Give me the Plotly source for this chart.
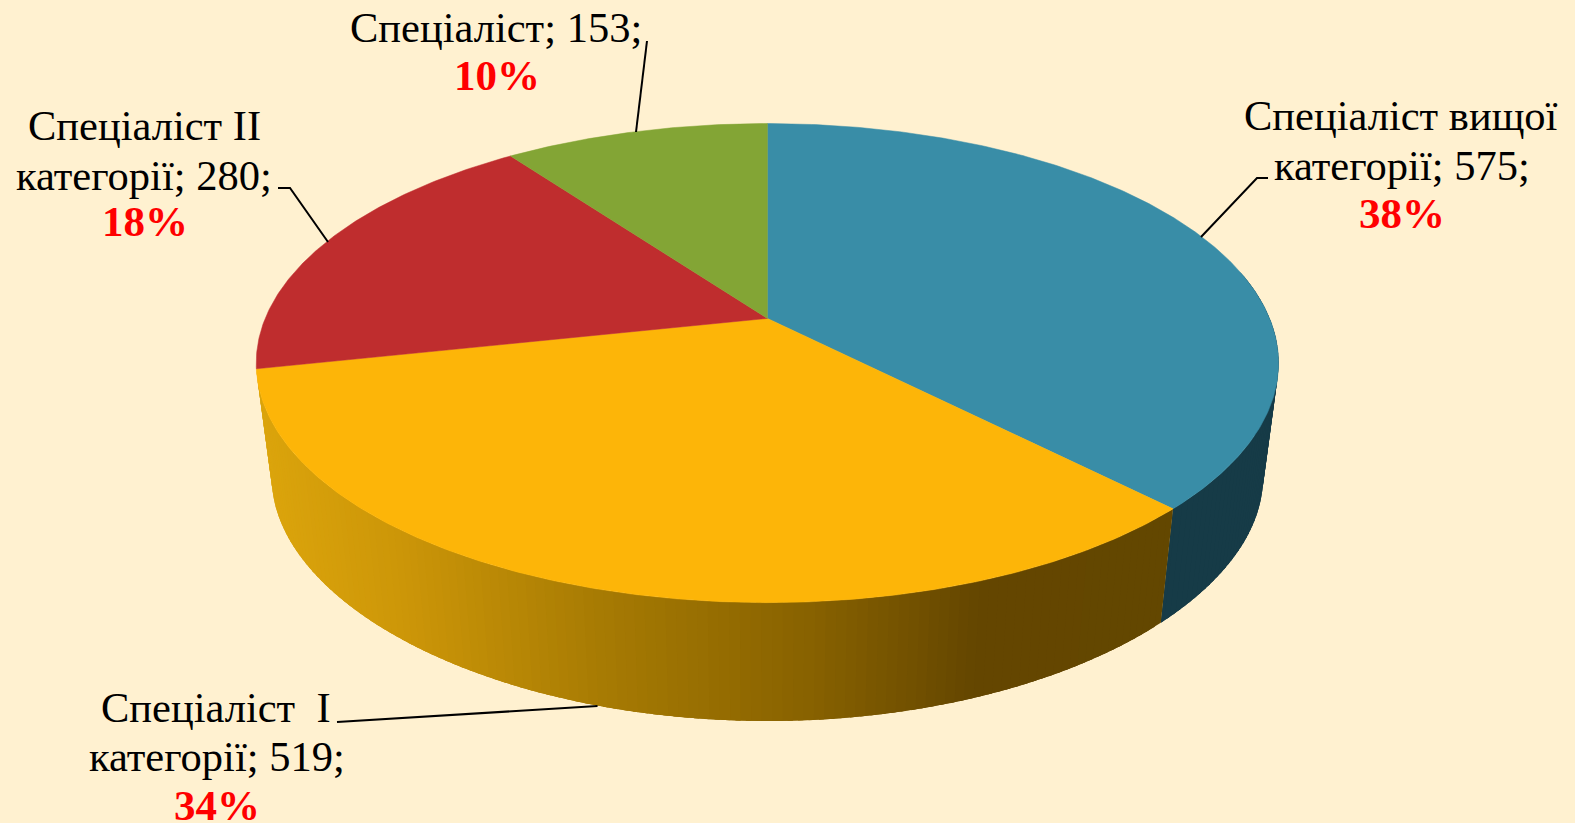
import math
import plotly.graph_objects as go

# ---- data ----
categories = ["Спеціаліст вищої категорії", "Спеціаліст I категорії", "Спеціаліст II категорії", "Спеціаліст"]
values = [575, 519, 280, 153]
percent_labels = ["38%", "34%", "18%", "10%"]

label_lines = [
    ["Спеціаліст вищої", "категорії; 575;"],
    ["Спеціаліст  I", "категорії; 519;"],
    ["Спеціаліст II", "категорії; 280;"],
    ["Спеціаліст; 153;"],
]

# ---- styles and layout ----
W, H = 1575, 823
BG = "#FFF1D0"
TOP_COLORS = ["#398DA7", "#FDB508", "#BF2D2E", "#83A535"]
SIDE_TEAL = "#163B47"
GOLD_STOPS = [(258, (0xDC, 0xA5, 0x0C)), (400, (0xCC, 0x96, 0x08)), (600, (0xA6, 0x7A, 0x03)),
              (800, (0x88, 0x62, 0x00)), (970, (0x64, 0x46, 0x00)), (1175, (0x63, 0x47, 0x00))]
FONT = "Liberation Serif"
FS = 42.5
FS_PCT = 43

label_pos = [  # centre x, baseline y of each text line
    [(1401, 130), (1401.5, 180), (1402, 228)],
    [(216, 722), (216.5, 771), (217, 820)],
    [(144, 140), (144, 190), (145, 236)],
    [(496, 42), (497, 90)],
]
leaders = [
    ([1268, 1257, 1201], [178, 178, 237]),
    ([337, 597.5], [722, 706]),
    ([278, 290, 328], [188, 188, 242]),
    ([647, 636], [41, 132]),
]

CX, CY, RX, RY, K = 767.4, 318.4, 502.2, 231.2, 0.1866
BX, BY0, BRY, BKY = 487.0, 434.0, 221.0, 0.23


def top_pt(deg):
    t = math.radians(deg)
    X, Y = math.sin(t), -math.cos(t)
    d = 1 - K * Y
    return CX + RX * X / d, CY + RY * Y / d


def bot_pt(deg):
    t = math.radians(deg)
    X, Y = math.sin(t), -math.cos(t)
    return CX + BX * X / (1 - K * Y), BY0 + BRY * Y / (1 - BKY * Y)


def gold(x):
    if x <= GOLD_STOPS[0][0]:
        c = GOLD_STOPS[0][1]
    elif x >= GOLD_STOPS[-1][0]:
        c = GOLD_STOPS[-1][1]
    else:
        for (a, ca), (b, cb) in zip(GOLD_STOPS, GOLD_STOPS[1:]):
            if a <= x <= b:
                f = (x - a) / (b - a)
                c = tuple(round(p + (q - p) * f) for p, q in zip(ca, cb))
                break
    return "rgb(%d,%d,%d)" % tuple(c)


total = sum(values)
edges = [0.0]
for v in values:
    edges.append(edges[-1] + 360.0 * v / total)

fig = go.Figure()


def poly(xs, ys, color, lw=0.0):
    fig.add_trace(go.Scatter(x=xs, y=ys, mode="lines", fill="toself", fillcolor=color,
                             line=dict(color=color, width=lw), hoverinfo="skip", showlegend=False))


def wall(d1, d2):
    a, b, c, e = top_pt(d1), top_pt(d2), bot_pt(d2), bot_pt(d1)
    return [a[0], b[0], c[0], e[0], a[0]], [a[1], b[1], c[1], e[1], a[1]]


STEP = 1.0

# side wall of the first slice: flat dark strips
deg = 78.0
while deg < edges[1]:
    d2 = min(deg + STEP, edges[1])
    xs, ys = wall(deg, min(d2 + STEP * 1.5, edges[1]))
    poly(xs, ys, SIDE_TEAL)
    deg = d2

# side wall of the second slice: gradient strips, each running under the next
deg = edges[1]
while deg < edges[2]:
    d2 = min(deg + STEP, edges[2])
    xs, ys = wall(deg, min(d2 + STEP * 1.5, edges[2]))
    poly(xs, ys, gold(sum(xs[:4]) / 4))
    deg = d2

# top face wedges
for i in range(len(values)):
    n = max(2, int(edges[i + 1] - edges[i]) * 2)
    pts = [top_pt(edges[i] + (edges[i + 1] - edges[i]) * j / n) for j in range(n + 1)]
    xs = [CX] + [p[0] for p in pts] + [CX]
    ys = [CY] + [p[1] for p in pts] + [CY]
    poly(xs, ys, TOP_COLORS[i], 0.5)

# leader lines
for lx, ly in leaders:
    fig.add_trace(go.Scatter(x=lx, y=ly, mode="lines", line=dict(color="black", width=2),
                             hoverinfo="skip", showlegend=False))


# text
def add_text(txt, x, base, size, color, bold=False):
    fig.add_annotation(x=x, y=base - 0.34 * size, xref="x", yref="y", text=("<b>%s</b>" % txt) if bold else txt,
                       showarrow=False, xanchor="center", yanchor="middle",
                       font=dict(family=FONT, size=size, color=color))


for i in range(len(values)):
    lines = label_lines[i]
    pos = label_pos[i]
    for txt, (x, b) in zip(lines, pos):
        add_text(txt, x, b, FS, "black")
    x, b = pos[len(lines)]
    add_text(percent_labels[i], x, b, FS_PCT, "#FF0000", bold=True)

fig.update_layout(
    width=W, height=H, autosize=False,
    margin=dict(l=0, r=0, t=0, b=0),
    paper_bgcolor=BG, plot_bgcolor=BG, showlegend=False,
    xaxis=dict(range=[0, W], visible=False, fixedrange=True),
    yaxis=dict(range=[H, 0], visible=False, fixedrange=True),
)

fig.write_html("out.html", config={"displayModeBar": False},
               post_script="document.body.style.margin='0';document.documentElement.style.overflow='hidden';")
